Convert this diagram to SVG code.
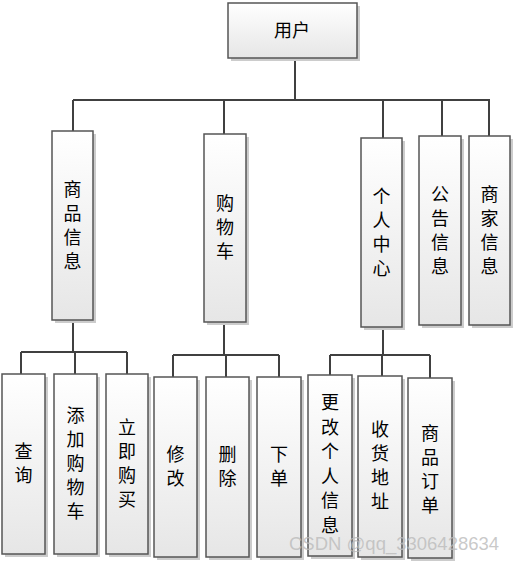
<svg xmlns="http://www.w3.org/2000/svg" width="515" height="563" viewBox="0 0 515 563">
<style>
.box{fill:url(#g);stroke:#555;stroke-width:1.5}
.sh{fill:#cccccc}
.t{font-family:"Noto Sans CJK SC","Noto Sans",sans-serif;font-size:18px;fill:#000;text-anchor:middle}
.c{fill:none;stroke:#404040;stroke-width:2}
.wm{font-family:"Liberation Sans",Arial,sans-serif;font-size:18.5px;fill:#bbb;fill-opacity:0.8}
</style>
<defs>
<linearGradient id="g" x1="0" y1="0" x2="0" y2="1">
<stop offset="0" stop-color="#ffffff"/>
<stop offset="1" stop-color="#e6e6e6"/>
</linearGradient>
</defs>
<g id="connectors">
<path class="c" d="M295 58V100M73 100H490M73 100V131M224 100V134M383 100V138M442 100V136M489 100V136"/>
<path class="c" d="M73 320V352M21 352H127M21 352V374M75 352V374M127 352V374"/>
<path class="c" d="M224 322V355M173 355H279M173 355V377M226 355V377M279 355V377"/>
<path class="c" d="M383 327V355M330 355H430M330 355V375M382 355V376M430 355V378"/>
</g>
<g id="n-user"><rect class="sh" x="231" y="6" width="129" height="55"/><rect class="box" x="228" y="3" width="129" height="55"/><text class="t" x="292" y="37">用户</text></g>
<g id="n-goods"><rect class="sh" x="55" y="134" width="41" height="189"/><rect class="box" x="52" y="131" width="41" height="189"/><text class="t"><tspan x="72.5" y="196">商</tspan><tspan x="72.5" dy="24">品</tspan><tspan x="72.5" dy="24">信</tspan><tspan x="72.5" dy="24">息</tspan></text></g>
<g id="n-cart"><rect class="sh" x="207" y="137" width="42" height="188"/><rect class="box" x="204" y="134" width="42" height="188"/><text class="t"><tspan x="225" y="210">购</tspan><tspan x="225" dy="24">物</tspan><tspan x="225" dy="24">车</tspan></text></g>
<g id="n-personal"><rect class="sh" x="364" y="141" width="41" height="189"/><rect class="box" x="361" y="138" width="41" height="189"/><text class="t"><tspan x="381.5" y="203">个</tspan><tspan x="381.5" dy="24">人</tspan><tspan x="381.5" dy="24">中</tspan><tspan x="381.5" dy="24">心</tspan></text></g>
<g id="n-notice"><rect class="sh" x="422" y="139" width="42" height="189"/><rect class="box" x="419" y="136" width="42" height="189"/><text class="t"><tspan x="440" y="201">公</tspan><tspan x="440" dy="24">告</tspan><tspan x="440" dy="24">信</tspan><tspan x="440" dy="24">息</tspan></text></g>
<g id="n-merchant"><rect class="sh" x="472" y="139" width="41" height="189"/><rect class="box" x="469" y="136" width="41" height="189"/><text class="t"><tspan x="489.5" y="201">商</tspan><tspan x="489.5" dy="24">家</tspan><tspan x="489.5" dy="24">信</tspan><tspan x="489.5" dy="24">息</tspan></text></g>
<g id="n-query"><rect class="sh" x="5" y="377" width="43" height="180"/><rect class="box" x="2" y="374" width="43" height="180"/><text class="t"><tspan x="23.5" y="458">查</tspan><tspan x="23.5" dy="24">询</tspan></text></g>
<g id="n-addcart"><rect class="sh" x="57" y="377" width="43" height="180"/><rect class="box" x="54" y="374" width="43" height="180"/><text class="t"><tspan x="75.5" y="422">添</tspan><tspan x="75.5" dy="24">加</tspan><tspan x="75.5" dy="24">购</tspan><tspan x="75.5" dy="24">物</tspan><tspan x="75.5" dy="24">车</tspan></text></g>
<g id="n-buynow"><rect class="sh" x="109" y="377" width="42" height="180"/><rect class="box" x="106" y="374" width="42" height="180"/><text class="t"><tspan x="127" y="434">立</tspan><tspan x="127" dy="24">即</tspan><tspan x="127" dy="24">购</tspan><tspan x="127" dy="24">买</tspan></text></g>
<g id="n-edit"><rect class="sh" x="157" y="380" width="43" height="180"/><rect class="box" x="154" y="377" width="43" height="180"/><text class="t"><tspan x="175.5" y="461">修</tspan><tspan x="175.5" dy="24">改</tspan></text></g>
<g id="n-delete"><rect class="sh" x="209" y="380" width="43" height="180"/><rect class="box" x="206" y="377" width="43" height="180"/><text class="t"><tspan x="227.5" y="461">删</tspan><tspan x="227.5" dy="24">除</tspan></text></g>
<g id="n-order"><rect class="sh" x="260" y="380" width="44" height="180"/><rect class="box" x="257" y="377" width="44" height="180"/><text class="t"><tspan x="279" y="461">下</tspan><tspan x="279" dy="24">单</tspan></text></g>
<g id="n-editinfo"><rect class="sh" x="311" y="378" width="44" height="181"/><rect class="box" x="308" y="375" width="44" height="181"/><text class="t"><tspan x="330" y="409">更</tspan><tspan x="330" dy="24.5">改</tspan><tspan x="330" dy="24.5">个</tspan><tspan x="330" dy="24.5">人</tspan><tspan x="330" dy="24.5">信</tspan><tspan x="330" dy="24.5">息</tspan></text></g>
<g id="n-address"><rect class="sh" x="361" y="379" width="44" height="181"/><rect class="box" x="358" y="376" width="44" height="181"/><text class="t"><tspan x="380" y="436">收</tspan><tspan x="380" dy="24">货</tspan><tspan x="380" dy="24">地</tspan><tspan x="380" dy="24">址</tspan></text></g>
<g id="n-goodsorder"><rect class="sh" x="411" y="381" width="44" height="180"/><rect class="box" x="408" y="378" width="44" height="180"/><text class="t"><tspan x="430" y="440">商</tspan><tspan x="430" dy="24">品</tspan><tspan x="430" dy="24">订</tspan><tspan x="430" dy="24">单</tspan></text></g>
<text class="wm" x="289" y="550">CSDN @qq_3306428634</text>
</svg>
